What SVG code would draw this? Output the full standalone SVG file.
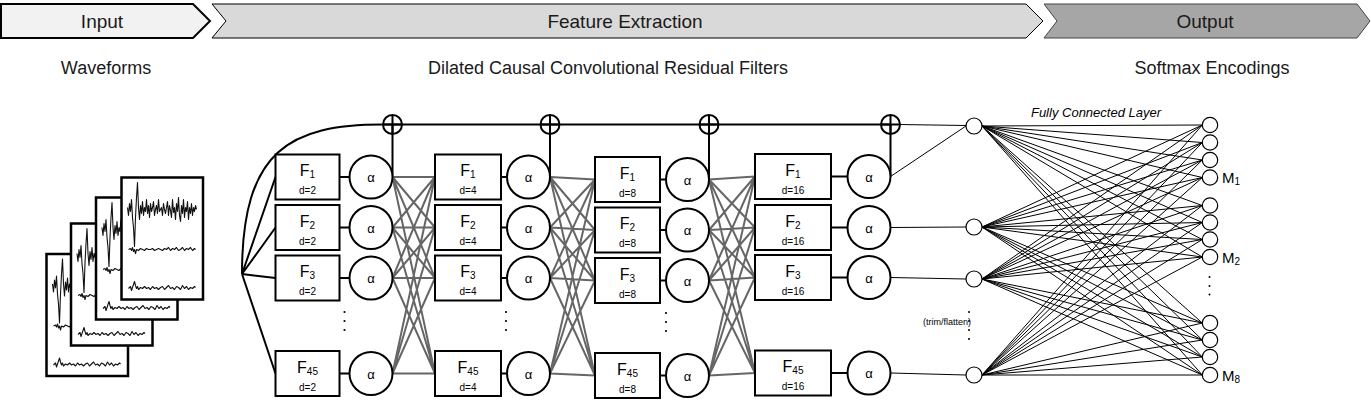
<svg xmlns="http://www.w3.org/2000/svg" width="1371" height="402" viewBox="0 0 1371 402">
<style>
text{font-family:"Liberation Sans",Arial,sans-serif;fill:#000}
.ban{font-size:19px;text-anchor:middle;fill:#1a1a1a}
.lab{font-size:18px;text-anchor:middle;fill:#1a1a1a}
.box{fill:#fff;stroke:#000;stroke-width:2}
.act{fill:#fff;stroke:#000;stroke-width:2}
.f{font-size:16px;text-anchor:middle}
.sub{font-size:10px}
.d{font-size:10px;text-anchor:middle}
.al{font-size:13px;text-anchor:middle}
.sum{fill:none;stroke:#000;stroke-width:2}
.blk{fill:none;stroke:#000;stroke-width:2}
.mesh{fill:none;stroke:#666;stroke-width:2}
.thin{fill:none;stroke:#000;stroke-width:1}
.node{fill:#fff;stroke:#000;stroke-width:1.2}
.dot{fill:#000}
.wv{fill:none;stroke:#111;stroke-width:1.1;stroke-linejoin:round}
.card{fill:#fff;stroke:#000;stroke-width:2.5}
.m{font-size:15px}
.fc{font-size:13px;font-style:italic;text-anchor:middle}
.tf{font-size:9px;text-anchor:end}
</style>
<defs>
<g id="card">
<rect class="card" x="0" y="0" width="81.5" height="122"/>
<polyline class="wv" points="6,30 7,38 8,26 9,34 10,22 11,40 12,50 13,69 14,40 15,20 16,5 17,30 18,42 19,28 20,36 21,24 22,38 23,30 24,34 25,22 26,36 27,28 28,40 29,26 30,34 31,30 32,24 33,38 34,32 35,28 36,36 37,22 38,34 40,30 41,38 42,26 43,32 44,36 45,30 46,24 47,38 48,28 49,33 50,40 51,22 52,35 53,30 54,42 55,26 56,34 57,20 58,38 59,44 60,28 61,36 62,22 63,40 64,30 65,34 66,24 67,42 68,30 69,36 70,26 71,38 72,30 73,34 74,28 75,32"/>
<polyline class="wv" points="7,72 9,71 10,73 11,70 12,74 13,72 14,76 15,72 17,73 19,71 21,72 23,73 25,71 27,72 29,72 31,71 33,73 35,72 37,71 39,72 41,73 43,71 45,72 47,70 49,73 51,71 53,72 55,70 57,73 59,72 61,70 63,73 65,71 67,72 69,70 71,73 73,71 74,72"/>
<polyline class="wv" points="7,111 9,109 10,113 11,110 12,107 13,104 14,108 15,111 16,109 17,112 19,110 21,111 23,109 25,111 27,110 29,112 31,109 33,111 35,110 37,112 39,110 41,109 43,112 45,110 47,108 49,111 51,110 53,112 55,109 57,110 59,112 61,108 63,111 65,109 67,112 69,110 71,111 73,109 74,110"/>
</g>
</defs>

<g id="banner">
<polygon points="1,4 193,4 210,21 193,38 1,38" fill="#f2f2f2" stroke="#000" stroke-width="2"/>
<polygon points="212,4 1026,4 1043,21 1026,38 212,38 226,21" fill="#d9d9d9" stroke="#000" stroke-width="1"/>
<polygon points="1044,4 1357,4 1370,21 1357,38 1044,38 1057,21" fill="#a6a6a6" stroke="#444" stroke-width="1"/>
<text class="ban" x="102" y="28">Input</text>
<text class="ban" x="625" y="28">Feature Extraction</text>
<text class="ban" x="1205" y="28">Output</text>
</g>

<g id="labels">
<text class="lab" x="106" y="74">Waveforms</text>
<text class="lab" x="608" y="74">Dilated Causal Convolutional Residual Filters</text>
<text class="lab" x="1212" y="74">Softmax Encodings</text>
<text class="fc" x="1096" y="117">Fully Connected Layer</text>
</g>

<g id="waveforms">
<use href="#card" x="46.5" y="254"/>
<use href="#card" x="71" y="223.5"/>
<use href="#card" x="96" y="197.5"/>
<use href="#card" x="121.5" y="177.5"/>
</g>

<g id="connectors">
<path class="blk" d="M242 274L275.5 177M242 274L275.5 227.5M242 274L275.5 278M242 274L275.5 373.5"/>
<path class="blk" d="M242 274C242 150 290 124.5 383 124.5H890.5"/>
<path class="blk" d="M392.5 124.5V177M550 124.5V177M709 124.5V179.5M890.5 124.5V176.5"/>
<path class="blk" d="M339.5 177H349.5M339.5 227.5H349.5M339.5 278H349.5M339.5 373.5H349.5M501 177H507M501 227.5H507M501 278H507M501 373.5H507M660 179.5H666M660 230H666M660 280.5H666M660 375.5H666M831 176.5H847.5M831 227.5H847.5M831 277.5H847.5M831 373H847.5"/>
<path class="mesh" d="M392.5 177L435 177M392.5 177L435 227.5M392.5 177L435 278M392.5 177L435 373.5M392.5 227.5L435 177M392.5 227.5L435 227.5M392.5 227.5L435 278M392.5 227.5L435 373.5M392.5 278L435 177M392.5 278L435 227.5M392.5 278L435 278M392.5 278L435 373.5M392.5 373.5L435 177M392.5 373.5L435 227.5M392.5 373.5L435 278M392.5 373.5L435 373.5"/>
<path class="mesh" d="M550 177L595 179.5M550 177L595 230M550 177L595 280.5M550 177L595 375.5M550 227.5L595 179.5M550 227.5L595 230M550 227.5L595 280.5M550 227.5L595 375.5M550 278L595 179.5M550 278L595 230M550 278L595 280.5M550 278L595 375.5M550 373.5L595 179.5M550 373.5L595 230M550 373.5L595 280.5M550 373.5L595 375.5"/>
<path class="mesh" d="M709 179.5L755 176.5M709 179.5L755 227.5M709 179.5L755 277.5M709 179.5L755 373M709 230L755 176.5M709 230L755 227.5M709 230L755 277.5M709 230L755 373M709 280.5L755 176.5M709 280.5L755 227.5M709 280.5L755 277.5M709 280.5L755 373M709 375.5L755 176.5M709 375.5L755 227.5M709 375.5L755 277.5M709 375.5L755 373"/>
<path class="thin" d="M899.5 124.5L966 125.5M890.5 176.5L966 126M890.5 227.5L966 227M890.5 277.5L966 279M890.5 373L966 375"/>
<path class="thin" d="M982 126L1202.3 125M982 126L1202.3 142.5M982 126L1202.3 160M982 126L1202.3 177.5M982 126L1202.3 205.5M982 126L1202.3 222.5M982 126L1202.3 239.5M982 126L1202.3 257M982 126L1202.3 323M982 126L1202.3 340M982 126L1202.3 357M982 126L1202.3 375
M982 227L1202.3 125M982 227L1202.3 142.5M982 227L1202.3 160M982 227L1202.3 177.5M982 227L1202.3 205.5M982 227L1202.3 222.5M982 227L1202.3 239.5M982 227L1202.3 257M982 227L1202.3 323M982 227L1202.3 340M982 227L1202.3 357M982 227L1202.3 375
M982 279L1202.3 125M982 279L1202.3 142.5M982 279L1202.3 160M982 279L1202.3 177.5M982 279L1202.3 205.5M982 279L1202.3 222.5M982 279L1202.3 239.5M982 279L1202.3 257M982 279L1202.3 323M982 279L1202.3 340M982 279L1202.3 357M982 279L1202.3 375
M982 375L1202.3 125M982 375L1202.3 142.5M982 375L1202.3 160M982 375L1202.3 177.5M982 375L1202.3 205.5M982 375L1202.3 222.5M982 375L1202.3 239.5M982 375L1202.3 257M982 375L1202.3 323M982 375L1202.3 340M982 375L1202.3 357M982 375L1202.3 375"/>
</g>

<g id="sum1"><circle class="sum" cx="392.5" cy="124.5" r="9.5"/><path class="sum" d="M392.5 115V134M383 124.5H402"/></g>
<g id="sum2"><circle class="sum" cx="550" cy="124.5" r="9.5"/><path class="sum" d="M550 115V134M540.5 124.5H559.5"/></g>
<g id="sum3"><circle class="sum" cx="709" cy="124.5" r="9.5"/><path class="sum" d="M709 115V134M699.5 124.5H718.5"/></g>
<g id="sum4"><circle class="sum" cx="890.5" cy="124.5" r="9.5"/><path class="sum" d="M890.5 115V134M881 124.5H900"/></g>

<!-- column 1 -->
<g id="c1-f1"><rect class="box" x="275.5" y="154.5" width="64" height="45"/><text class="f" x="307.5" y="176">F<tspan class="sub" dy="2">1</tspan></text><text class="d" x="307.5" y="194">d=2</text></g>
<g id="c1-f2"><rect class="box" x="275.5" y="205" width="64" height="45"/><text class="f" x="307.5" y="226.5">F<tspan class="sub" dy="2">2</tspan></text><text class="d" x="307.5" y="244.5">d=2</text></g>
<g id="c1-f3"><rect class="box" x="275.5" y="255.5" width="64" height="45"/><text class="f" x="307.5" y="277">F<tspan class="sub" dy="2">3</tspan></text><text class="d" x="307.5" y="295">d=2</text></g>
<g id="c1-f45"><rect class="box" x="275.5" y="351" width="64" height="45"/><text class="f" x="307.5" y="372.5">F<tspan class="sub" dy="2">45</tspan></text><text class="d" x="307.5" y="390.5">d=2</text></g>
<g id="c1-a1"><circle class="act" cx="371" cy="177" r="21.5"/><text class="al" x="371" y="182">α</text></g>
<g id="c1-a2"><circle class="act" cx="371" cy="227.5" r="21.5"/><text class="al" x="371" y="232.5">α</text></g>
<g id="c1-a3"><circle class="act" cx="371" cy="278" r="21.5"/><text class="al" x="371" y="283">α</text></g>
<g id="c1-a45"><circle class="act" cx="371" cy="373.5" r="21.5"/><text class="al" x="371" y="378.5">α</text></g>
<g id="c1-dots"><circle class="dot" cx="344.5" cy="312" r="1.1"/><circle class="dot" cx="344.5" cy="321" r="1.1"/><circle class="dot" cx="344.5" cy="330" r="1.1"/></g>

<!-- column 2 -->
<g id="c2-f1"><rect class="box" x="435" y="154.5" width="66" height="45"/><text class="f" x="468" y="176">F<tspan class="sub" dy="2">1</tspan></text><text class="d" x="468" y="194">d=4</text></g>
<g id="c2-f2"><rect class="box" x="435" y="205" width="66" height="45"/><text class="f" x="468" y="226.5">F<tspan class="sub" dy="2">2</tspan></text><text class="d" x="468" y="244.5">d=4</text></g>
<g id="c2-f3"><rect class="box" x="435" y="255.5" width="66" height="45"/><text class="f" x="468" y="277">F<tspan class="sub" dy="2">3</tspan></text><text class="d" x="468" y="295">d=4</text></g>
<g id="c2-f45"><rect class="box" x="435" y="351" width="66" height="45"/><text class="f" x="468" y="372.5">F<tspan class="sub" dy="2">45</tspan></text><text class="d" x="468" y="390.5">d=4</text></g>
<g id="c2-a1"><circle class="act" cx="528.5" cy="177" r="21.5"/><text class="al" x="528.5" y="182">α</text></g>
<g id="c2-a2"><circle class="act" cx="528.5" cy="227.5" r="21.5"/><text class="al" x="528.5" y="232.5">α</text></g>
<g id="c2-a3"><circle class="act" cx="528.5" cy="278" r="21.5"/><text class="al" x="528.5" y="283">α</text></g>
<g id="c2-a45"><circle class="act" cx="528.5" cy="373.5" r="21.5"/><text class="al" x="528.5" y="378.5">α</text></g>
<g id="c2-dots"><circle class="dot" cx="506" cy="312" r="1.1"/><circle class="dot" cx="506" cy="321" r="1.1"/><circle class="dot" cx="506" cy="330" r="1.1"/></g>

<!-- column 3 -->
<g id="c3-f1"><rect class="box" x="595" y="157" width="65" height="45"/><text class="f" x="627.5" y="178.5">F<tspan class="sub" dy="2">1</tspan></text><text class="d" x="627.5" y="196.5">d=8</text></g>
<g id="c3-f2"><rect class="box" x="595" y="207.5" width="65" height="45"/><text class="f" x="627.5" y="229">F<tspan class="sub" dy="2">2</tspan></text><text class="d" x="627.5" y="247">d=8</text></g>
<g id="c3-f3"><rect class="box" x="595" y="258" width="65" height="45"/><text class="f" x="627.5" y="279.5">F<tspan class="sub" dy="2">3</tspan></text><text class="d" x="627.5" y="297.5">d=8</text></g>
<g id="c3-f45"><rect class="box" x="595" y="353" width="65" height="45"/><text class="f" x="627.5" y="374.5">F<tspan class="sub" dy="2">45</tspan></text><text class="d" x="627.5" y="392.5">d=8</text></g>
<g id="c3-a1"><circle class="act" cx="687.5" cy="179.5" r="21.5"/><text class="al" x="687.5" y="184.5">α</text></g>
<g id="c3-a2"><circle class="act" cx="687.5" cy="230" r="21.5"/><text class="al" x="687.5" y="235">α</text></g>
<g id="c3-a3"><circle class="act" cx="687.5" cy="280.5" r="21.5"/><text class="al" x="687.5" y="285.5">α</text></g>
<g id="c3-a45"><circle class="act" cx="687.5" cy="375.5" r="21.5"/><text class="al" x="687.5" y="380.5">α</text></g>
<g id="c3-dots"><circle class="dot" cx="666" cy="313" r="1.1"/><circle class="dot" cx="666" cy="322" r="1.1"/><circle class="dot" cx="666" cy="331" r="1.1"/></g>

<!-- column 4 -->
<g id="c4-f1"><rect class="box" x="755" y="154" width="76" height="45"/><text class="f" x="793" y="175.5">F<tspan class="sub" dy="2">1</tspan></text><text class="d" x="793" y="193.5">d=16</text></g>
<g id="c4-f2"><rect class="box" x="755" y="205" width="76" height="45"/><text class="f" x="793" y="226.5">F<tspan class="sub" dy="2">2</tspan></text><text class="d" x="793" y="244.5">d=16</text></g>
<g id="c4-f3"><rect class="box" x="755" y="255" width="76" height="45"/><text class="f" x="793" y="276.5">F<tspan class="sub" dy="2">3</tspan></text><text class="d" x="793" y="294.5">d=16</text></g>
<g id="c4-f45"><rect class="box" x="755" y="350.5" width="76" height="45"/><text class="f" x="793" y="372">F<tspan class="sub" dy="2">45</tspan></text><text class="d" x="793" y="390">d=16</text></g>
<g id="c4-a1"><circle class="act" cx="869" cy="176.5" r="21.5"/><text class="al" x="869" y="181.5">α</text></g>
<g id="c4-a2"><circle class="act" cx="869" cy="227.5" r="21.5"/><text class="al" x="869" y="232.5">α</text></g>
<g id="c4-a3"><circle class="act" cx="869" cy="277.5" r="21.5"/><text class="al" x="869" y="282.5">α</text></g>
<g id="c4-a45"><circle class="act" cx="869" cy="373" r="21.5"/><text class="al" x="869" y="378">α</text></g>

<!-- flatten nodes -->
<g id="flat">
<circle class="node" cx="974" cy="126" r="8"/>
<circle class="node" cx="974" cy="227" r="8"/>
<circle class="node" cx="974" cy="279" r="8"/>
<circle class="node" cx="974" cy="375" r="8"/>
<circle class="dot" cx="969" cy="312" r="1"/><circle class="dot" cx="969" cy="321" r="1"/><circle class="dot" cx="969" cy="330" r="1"/><circle class="dot" cx="969" cy="339" r="1"/>
<text class="tf" x="971" y="325">(trim/flatten)</text>
</g>

<!-- output nodes -->
<g id="out">
<circle class="node" cx="1210" cy="125" r="7.7"/>
<circle class="node" cx="1210" cy="142.5" r="7.7"/>
<circle class="node" cx="1210" cy="160" r="7.7"/>
<circle class="node" cx="1210" cy="177.5" r="7.7"/>
<circle class="node" cx="1210" cy="205.5" r="7.7"/>
<circle class="node" cx="1210" cy="222.5" r="7.7"/>
<circle class="node" cx="1210" cy="239.5" r="7.7"/>
<circle class="node" cx="1210" cy="257" r="7.7"/>
<circle class="node" cx="1210" cy="323" r="7.7"/>
<circle class="node" cx="1210" cy="340" r="7.7"/>
<circle class="node" cx="1210" cy="357" r="7.7"/>
<circle class="node" cx="1210" cy="375" r="7.7"/>
<circle class="dot" cx="1209.5" cy="277" r="1"/><circle class="dot" cx="1209.5" cy="286" r="1"/><circle class="dot" cx="1209.5" cy="294.5" r="1"/>
<text class="m" x="1222" y="183">M<tspan class="sub" dy="2">1</tspan></text>
<text class="m" x="1222" y="262.5">M<tspan class="sub" dy="2">2</tspan></text>
<text class="m" x="1222" y="380.5">M<tspan class="sub" dy="2">8</tspan></text>
</g>
</svg>
